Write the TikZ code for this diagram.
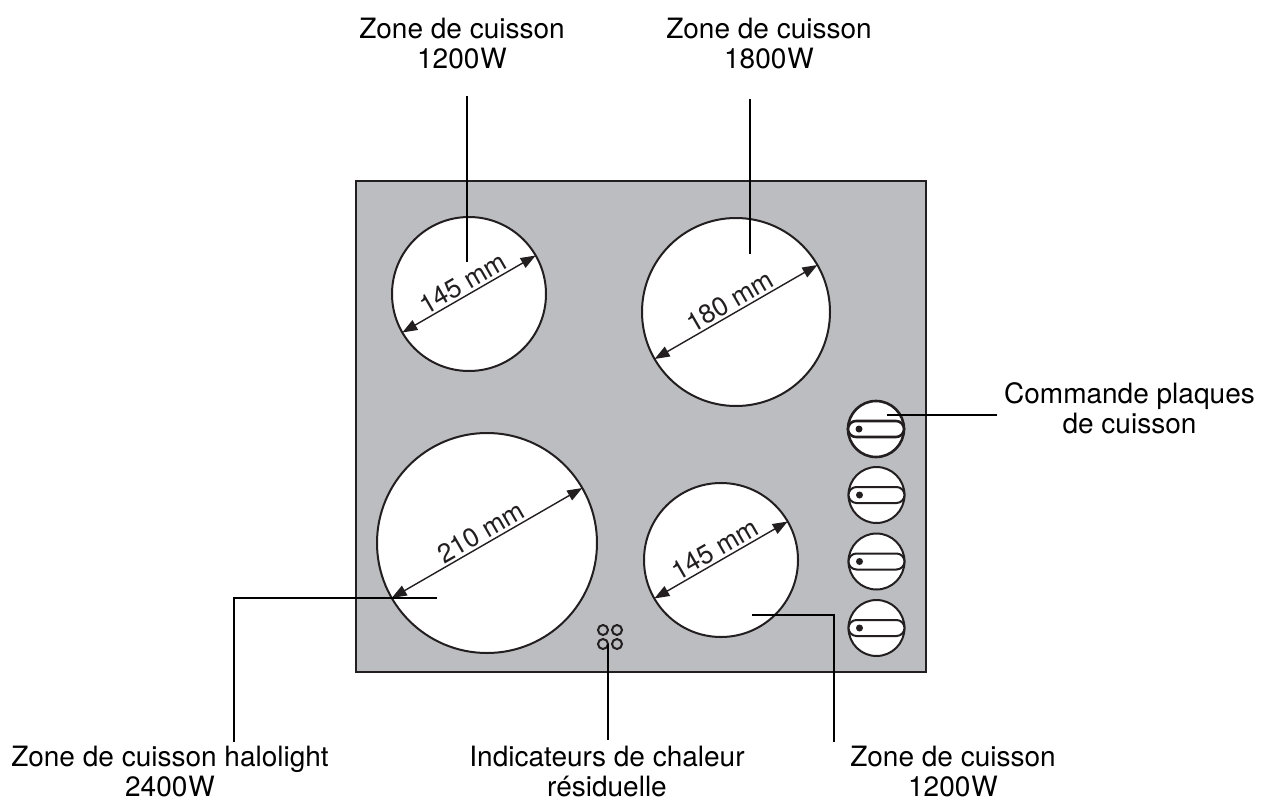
\documentclass[tikz,border=0pt]{standalone}
\usepackage{fontspec}
\usetikzlibrary{arrows.meta,shapes.misc}
\setmainfont{TeX Gyre Heros}
\definecolor{ink}{HTML}{231F20}
\definecolor{plate}{HTML}{BCBDC0}
\begin{document}
\begin{tikzpicture}[x=1pt,y=-1pt,
        zone/.style = {draw=ink, circle, fill=white, line width=2pt, inner sep=0pt, outer sep=0pt},
        knob/.style = {draw=ink, circle, fill=white, line width=2pt, inner sep=0pt, outer sep=0pt, minimum size=56pt},
        pill/.style = {draw=ink, rounded rectangle, fill=white, line width=2pt, inner sep=0pt, outer sep=0pt, minimum width=56pt, minimum height=16pt},
        lamp/.style = {draw=ink, circle, line width=2pt, inner sep=0pt, outer sep=0pt, minimum size=10pt},
        dot/.style = {circle, fill=ink, inner sep=0pt, minimum size=7pt},
        dim/.style = {{Stealth[length=15pt,width=11pt,inset=0pt]}-{Stealth[length=15pt,width=11pt,inset=0pt]}, draw=ink, line width=1.4pt},
        leader/.style = {draw=black, line width=2pt},
        label/.style = {align=center, text=black, font=\fontsize{28}{30}\selectfont},
        size/.style = {sloped, above, text=ink, inner sep=2pt, font=\fontsize{26.5}{28}\selectfont}]
        \useasboundingbox (0,0) rectangle (1262,806);
        \node[draw=ink, fill=plate, line width=1.6pt, minimum width=570pt, minimum height=491pt, inner sep=0pt] (panel) at (641,426.5) {};
        % cooking zones
        \node[zone, minimum size=154pt] (z1) at (469,294) {};
        \node[zone, minimum size=188pt] (z2) at (736,312) {};
        \node[zone, minimum size=220pt] (z3) at (487,543) {};
        \node[zone, minimum size=154pt] (z4) at (721,560) {};
        \draw[dim] (z1.210) -- node[size] {145 mm} (z1.30);
        \draw[dim] (z2.210) -- node[size] {180 mm} (z2.30);
        \draw[dim] (z3.210) -- node[size] {210 mm} (z3.30);
        \draw[dim] (z4.210) -- node[size] {145 mm} (z4.30);
        % knobs
        \foreach \n/\x/\y/\w in {1/876/429/2.6pt, 2/876.5/495/2pt, 3/876.5/561.5/2pt, 4/876.5/628/2pt} {
                \node[knob, line width=\w] (k\n) at (\x,\y) {};
                \node[pill, line width=\w] (p\n) at (k\n) {};
                \node[dot] (d\n) at ([xshift=-17pt]k\n) {};
        }
        % indicators
        \node[lamp] (i1) at (603,630) {};
        \node[lamp] (i2) at (617,630) {};
        \node[lamp] (i3) at (603,644) {};
        \node[lamp] (i4) at (617,644) {};
        % labels
        \node[label] (l1) at (462,44) {Zone de cuisson\\1200\kern1pt W};
        \node[label] (l2) at (769,44) {Zone de cuisson\\1800\kern1pt W};
        \node[label] (l3) at (1129.5,408) {Commande plaques\\de cuisson};
        \node[label] (l4) at (170,771) {Zone de cuisson halolight\\2400\kern1pt W};
        \node[label] (l5) at (607,771) {Indicateurs de chaleur\\résiduelle};
        \node[label] (l6) at (953,771) {Zone de cuisson\\1200\kern1pt W};
        % leader ends
        \coordinate (a1) at (467,96);
        \coordinate (b1) at (467,262);
        \coordinate (a2) at (750,99);
        \coordinate (b2) at (750,254);
        \coordinate (a3) at (997,415);
        \coordinate (b3) at (887,415);
        \coordinate (a4) at (234,742);
        \coordinate (b4) at (437,598);
        \coordinate (a5) at (i3.east |- 0,740);
        \coordinate (a6) at (834,742);
        \coordinate (b6) at (752,615);
        \draw[leader] (a1) -- (b1);
        \draw[leader] (a2) -- (b2);
        \draw[leader] (a3) -- (b3);
        \draw[leader] (a4) |- (b4);
        \draw[leader] (a5) -- (i3.east);
        \draw[leader] (a6) |- (b6);
\end{tikzpicture}
\end{document}
